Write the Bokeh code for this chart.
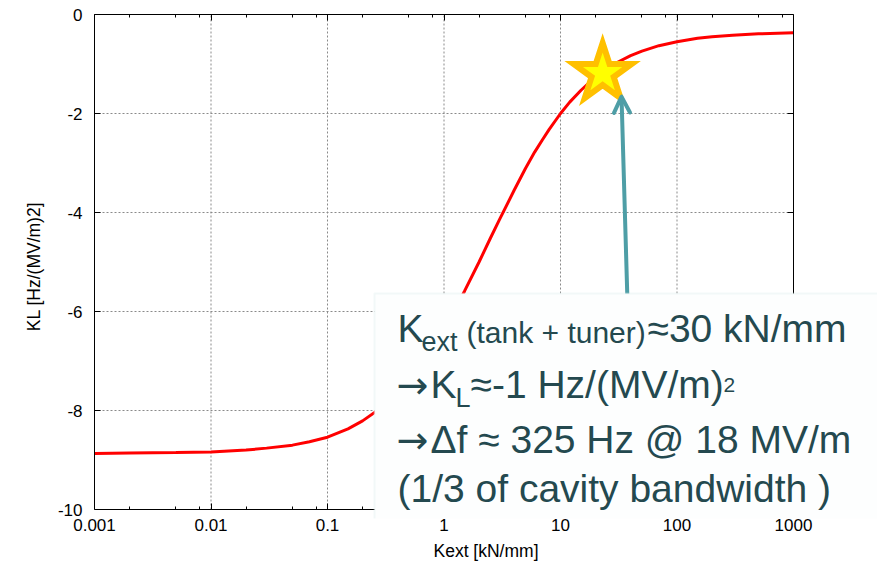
from bokeh.plotting import figure
from bokeh.models import (FixedTicker, LogAxis, LinearAxis, BoxAnnotation, Label,
                          Arrow, OpenHead)
from bokeh.embed import file_html
from bokeh.resources import INLINE

# ---- data ----
kext = [0.001, 0.002, 0.005, 0.01, 0.02, 0.03, 0.05, 0.07, 0.1, 0.15, 0.2, 0.3, 0.4,
        0.5, 0.6, 0.7, 0.8, 1, 1.2, 1.5, 2, 2.5, 3, 4, 5, 6, 7, 8, 10, 12, 15, 20,
        25, 30, 40, 50, 70, 100, 150, 200, 300, 500, 1000]
kl = [-8.87, -8.86, -8.85, -8.84, -8.80, -8.76, -8.70, -8.63, -8.54, -8.37, -8.21,
      -7.92, -7.65, -7.40, -7.17, -6.95, -6.74, -6.36, -6.03, -5.59, -5.00, -4.52,
      -4.14, -3.55, -3.11, -2.78, -2.53, -2.32, -2.00, -1.77, -1.53, -1.26, -1.10,
      -0.98, -0.83, -0.74, -0.63, -0.55, -0.48, -0.45, -0.42, -0.39, -0.37]

x_ticks = [0.001, 0.01, 0.1, 1, 10, 100, 1000]
x_tick_labels = ["0.001", "0.01", "0.1", "1", "10", "100", "1000"]
x_minor = [0.002, 0.005, 0.008, 0.02, 0.05, 0.08, 0.2, 0.5, 0.8, 2, 5, 8,
           20, 50, 80, 200, 500, 800]
y_ticks = [-10, -8, -6, -4, -2, 0]
y_tick_labels = ["-10", "-8", "-6", "-4", "-2", "0"]

star_x = [23]
star_y = [-1.19]

arrow_start = (38, -6.2)
arrow_end = (33.4, -1.66)

# ---- layout (canvas pixels) ----
W, H = 877, 568
X_MIN, X_MAX = 0.001, 1000        # visible axes
Y_MIN, Y_MAX = -10, 0
LEFT_PX, RIGHT_PX = 94, 793       # x pixel of X_MIN / X_MAX
TOP_PX = 14                       # y pixel of Y_MAX
PX_PER_DECADE = (RIGHT_PX - LEFT_PX) / 6
PX_PER_UNIT = 49.5
FRAME_RIGHT_PX, FRAME_BOTTOM_PX = W, 518   # frame extended for the note box


def data_x(px):
    return X_MIN * 10 ** ((px - LEFT_PX) / PX_PER_DECADE)


def data_y(py):
    return Y_MAX - (py - TOP_PX) / PX_PER_UNIT


X_END = data_x(FRAME_RIGHT_PX)
Y_END = data_y(FRAME_BOTTOM_PX)

# text box and its text pieces: (text, x pixel, baseline pixel, size, font)
BOX_PX_LEFT, BOX_PX_TOP = 374, 293
box_left, box_top = data_x(BOX_PX_LEFT), data_y(BOX_PX_TOP)
box_right, box_bottom = X_END * 2, data_y(FRAME_BOTTOM_PX + 5)
FONT = "Liberation Sans"
ARROWF = "DejaVu Sans"
box_texts = [
    ("K", 397, 342, 39, FONT),
    ("ext", 421, 351, 27, FONT),
    ("(tank + tuner)", 466, 342, 30, FONT),
    ("\u224830 kN/mm", 647, 342, 39, FONT),
    ("\u2192", 396, 398, 38, ARROWF),
    ("K", 430, 398, 39, FONT),
    ("L", 455, 407, 27, FONT),
    ("\u2248-1 Hz/(MV/m)", 470, 398, 39, FONT),
    ("2", 723, 392, 21, FONT),
    ("\u2192", 396, 453, 38, ARROWF),
    ("\u0394f \u2248 325 Hz @ 18 MV/m", 430, 453, 39, FONT),
    ("(1/3 of cavity bandwidth )", 397, 502, 39, FONT),
]
MID = 0.3465   # (ascent - descent) / 2 in em: baseline -> middle of the text box

TEXT_COLOR = "#24494F"
ARROW_COLOR = "#4E9EA6"

p = figure(width=W, height=H, x_axis_type="log", x_range=(X_MIN, X_END),
           y_range=(Y_END, Y_MAX), output_backend="svg", toolbar_location=None,
           title=None, min_border_left=LEFT_PX, min_border_right=0,
           min_border_top=TOP_PX, min_border_bottom=H - FRAME_BOTTOM_PX,
           background_fill_color="white", border_fill_color="white")

p.outline_line_color = None
p.xgrid.visible = False
p.ygrid.visible = False


def style_axis(ax):
    ax.axis_line_color = "black"
    ax.major_tick_in = 6
    ax.major_tick_out = 0
    ax.minor_tick_in = 3
    ax.minor_tick_out = 0
    ax.major_tick_line_color = "black"
    ax.minor_tick_line_color = "black"
    ax.major_label_text_font = FONT
    ax.major_label_text_font_size = "17px"
    ax.major_label_text_color = "black"
    ax.axis_label_text_font = FONT
    ax.axis_label_text_font_size = "17.5px"
    ax.axis_label_text_font_style = "normal"
    ax.axis_label_text_color = "black"


# bottom axis: tick labels and title only (sits at the extended frame edge)
xa = p.xaxis[0]
style_axis(xa)
xa.ticker = FixedTicker(ticks=x_ticks, minor_ticks=[])
xa.major_label_overrides = {t: s for t, s in zip(x_ticks, x_tick_labels)}
xa.bounds = (X_MIN, X_MAX)
xa.axis_line_color = None
xa.major_tick_line_color = None
xa.minor_tick_line_color = None
xa.axis_label = "Kext [kN/mm]"
xa.major_label_standoff = 0
xa.axis_label_standoff = 7

# bottom border line with ticks, pinned at y = -10
xb = LogAxis(ticker=FixedTicker(ticks=x_ticks, minor_ticks=x_minor),
             bounds=(X_MIN, X_MAX), fixed_location=Y_MIN, major_label_standoff=0)
style_axis(xb)
xb.major_label_text_font_size = "1px"
xb.major_label_text_color = None
p.add_layout(xb, "below")

# left axis
ya = p.yaxis[0]
style_axis(ya)
ya.ticker = FixedTicker(ticks=y_ticks, minor_ticks=[])
ya.major_label_overrides = {t: s for t, s in zip(y_ticks, y_tick_labels)}
ya.minor_tick_line_color = None
ya.bounds = (Y_MIN, Y_MAX)
ya.axis_label = "KL [Hz/(MV/m)2]"
ya.major_label_standoff = 12
ya.axis_label_standoff = 11

# mirrored ticks: top and right borders
top = LogAxis(ticker=FixedTicker(ticks=x_ticks, minor_ticks=x_minor),
              bounds=(X_MIN, X_MAX),
              major_label_text_font_size="1px", major_label_text_color=None,
              major_label_standoff=0,
              major_tick_in=6, major_tick_out=0, minor_tick_in=3, minor_tick_out=0,
              axis_line_color="black", major_tick_line_color="black",
              minor_tick_line_color="black")
p.add_layout(top, "above")
right = LinearAxis(ticker=FixedTicker(ticks=y_ticks, minor_ticks=[]),
                   bounds=(Y_MIN, Y_MAX), fixed_location=X_MAX,
                   major_label_text_font_size="1px", major_label_text_color=None,
                   major_label_standoff=0,
                   major_tick_in=6, major_tick_out=0, minor_tick_line_color=None,
                   axis_line_color="black", major_tick_line_color="black")
p.add_layout(right, "right")

# dotted grid limited to the visible axes box
gx = x_ticks[1:-1]
gy = y_ticks[1:-1]
p.segment(x0=gx, y0=[Y_MIN] * len(gx), x1=gx, y1=[Y_MAX] * len(gx),
          line_color="#8a8a8a", line_dash="2 2", line_width=1)
p.segment(x0=[X_MIN] * len(gy), y0=gy, x1=[X_MAX] * len(gy), y1=gy,
          line_color="#8a8a8a", line_dash="2 2", line_width=1)

# curve
p.line(kext, kl, line_color="#ff0000", line_width=3)

# star marker
p.scatter(star_x, star_y, marker="star", size=61, fill_color="#FFFF00",
          line_color="#FFC000", line_width=6, line_join="miter")

# arrow (its foot is hidden under the text box)
p.add_layout(Arrow(x_start=arrow_start[0], y_start=arrow_start[1],
                   x_end=arrow_end[0], y_end=arrow_end[1],
                   line_color=ARROW_COLOR, line_width=4, line_cap="round",
                   end=OpenHead(size=16, line_color=ARROW_COLOR, line_width=4,
                                line_cap="round", line_join="round")))

# text box
p.add_layout(BoxAnnotation(left=box_left, right=box_right, top=box_top,
                           bottom=box_bottom, fill_color="#FDFEFE", fill_alpha=1.0,
                           line_color="#D6EAEA", line_width=2, level="overlay"))

for txt, px, py, size, font in box_texts:
    mid_y = py - MID * size
    p.add_layout(Label(x=box_left, y=box_top, x_units="data", y_units="data",
                       x_offset=px - BOX_PX_LEFT, y_offset=-(mid_y - BOX_PX_TOP),
                       text=txt, text_font=font, text_font_size=f"{size}px",
                       text_color=TEXT_COLOR, text_baseline="middle",
                       text_align="left", level="overlay"))

open("out.html", "w").write(file_html(p, INLINE))
